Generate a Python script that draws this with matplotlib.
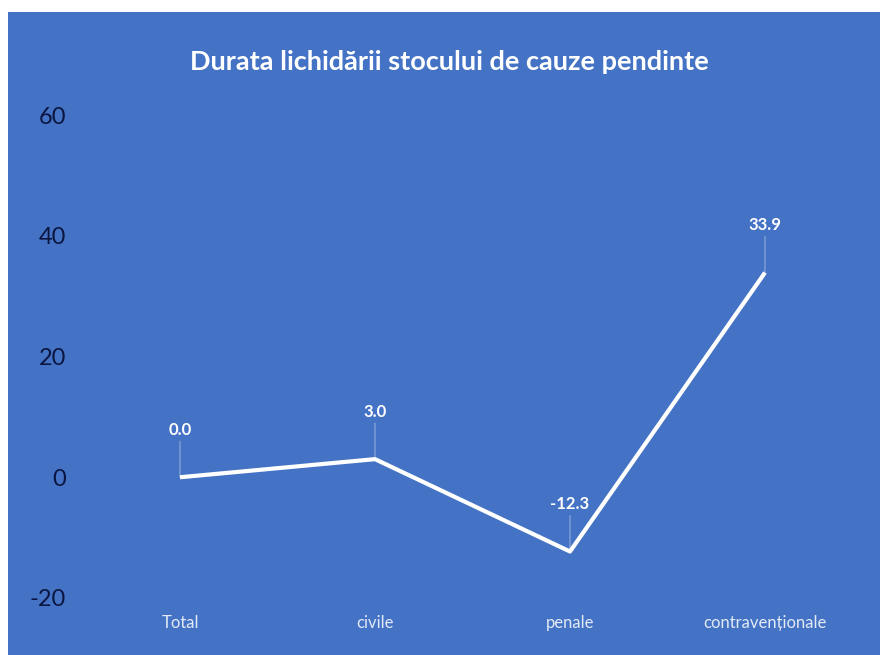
import matplotlib.pyplot as plt
from matplotlib.patches import Rectangle

# chart data
categories = ['Total', 'civile', 'penale', 'contravenționale']
values = [0.0, 3.0, -12.3, 33.9]
y_ticks = [-20, 0, 20, 40, 60]

bg = '#4472C4'

fig = plt.figure(figsize=(8.8, 6.55), dpi=100)
fig.patch.set_facecolor('white')
fig.patches.append(Rectangle((8 / 880, 0), 1, 1 - 12 / 655, transform=fig.transFigure,
                             facecolor=bg, edgecolor='none', zorder=-1))

ax = fig.add_axes([82.5 / 880, 57 / 655, 780 / 880, 483 / 655])
ax.set_facecolor('none')
ax.set_zorder(1)

x = list(range(len(categories)))
ax.plot(x, values, color='white', linewidth=3, solid_capstyle='butt', zorder=3)

# data labels with leader lines
for xi, v in zip(x, values):
    ax.annotate(f'{v:.1f}', xy=(xi, v), xytext=(0, 34), textcoords='offset points',
                ha='center', va='center', color='white', fontsize=12,
                fontweight='bold', family='Lato', zorder=4)
    ax.annotate('', xy=(xi, v), xytext=(0, 26), textcoords='offset points',
                arrowprops=dict(arrowstyle='-', color='#a9bde3', lw=0.6,
                                shrinkA=0, shrinkB=0), zorder=2)

ax.set_xlim(-0.5, len(categories) - 0.5)
ax.set_ylim(-20, 60)
ax.set_yticks(y_ticks)
ax.set_yticklabels([str(t) for t in y_ticks], color='#0b1640', fontsize=17, family='Lato')
ax.set_xticks(x)
ax.set_xticklabels(categories, color='#e2eaf6', fontsize=12, family='Lato')
ax.tick_params(axis='y', length=0, pad=12)
ax.tick_params(axis='x', length=0, pad=12)
for s in ax.spines.values():
    s.set_visible(False)

fig.text(449 / 880, 1 - 62 / 655, 'Durata lichidării stocului de cauze pendinte',
         ha='center', va='center', color='white', fontsize=19.5, fontweight='bold',
         family='Lato')

fig.savefig('out.png', dpi=100, facecolor=fig.get_facecolor())
